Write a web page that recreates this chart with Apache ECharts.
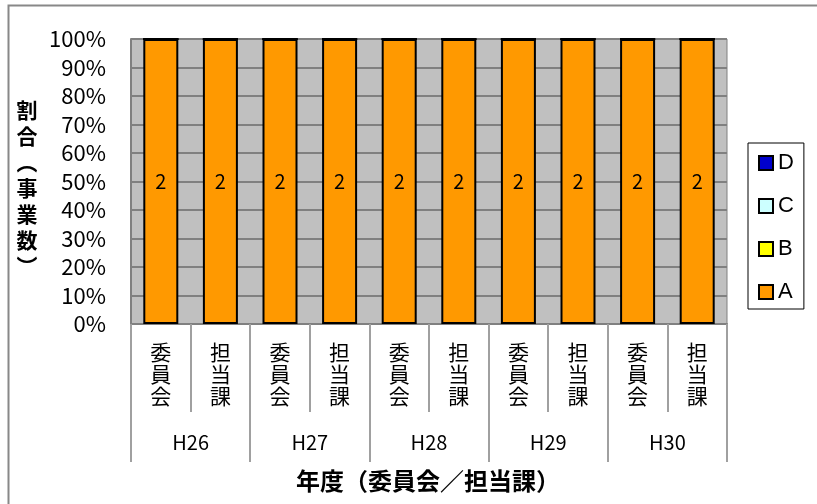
<!DOCTYPE html>
<html>
<head>
<meta charset="utf-8">
<script src="https://cdn.jsdelivr.net/npm/echarts@6/dist/echarts.min.js"></script>
<style>
html,body{margin:0;padding:0;background:#fff;}
#chart{width:817px;height:504px;}
</style>
</head>
<body>
<div id="chart"></div>
<script>
// Data
const categories = ['委員会','担当課','委員会','担当課','委員会','担当課','委員会','担当課','委員会','担当課'];
const years = ['H26','H27','H28','H29','H30'];
const seriesA = [2,2,2,2,2,2,2,2,2,2];
const seriesB = [0,0,0,0,0,0,0,0,0,0];
const seriesC = [0,0,0,0,0,0,0,0,0,0];
const seriesD = [0,0,0,0,0,0,0,0,0,0];
const yTicks = ['0%','10%','20%','30%','40%','50%','60%','70%','80%','90%','100%'];

const FONT = '"Noto Sans CJK JP", "Noto Sans", sans-serif';
const totals = categories.map((_, i) => seriesA[i] + seriesB[i] + seriesC[i] + seriesD[i]);
const pct = arr => arr.map((v, i) => ({ value: totals[i] ? v / totals[i] * 100 : 0, raw: v }));

const chart = echarts.init(document.getElementById('chart'), null, { renderer: 'canvas' });

function mkSeries(name, arr, color, showLabel) {
  return {
    name: name,
    type: 'bar',
    stack: 'total',
    xAxisIndex: 0,
    barWidth: 35,
    data: pct(arr),
    itemStyle: { color: color, borderColor: '#000', borderWidth: 2 },
    label: {
      show: showLabel,
      position: 'inside',
      color: '#000',
      fontSize: 20,
      fontFamily: FONT,
      formatter: p => p.data.raw > 0 ? String(p.data.raw) : ''
    },
    emphasis: { disabled: true }
  };
}

chart.setOption({
  animation: false,
  backgroundColor: '#fff',
  textStyle: { fontFamily: FONT },
  grid: {
    left: 131, right: 90, top: 39, bottom: 180,
    show: true, backgroundColor: '#C0C0C0', borderColor: '#808080', borderWidth: 1
  },
  legend: {
    orient: 'vertical',
    left: 748, top: 143,
    padding: [9, 10, 6, 10],
    itemGap: 21,
    itemWidth: 14, itemHeight: 14,
    icon: 'rect',
    borderColor: '#000', borderWidth: 1,
    backgroundColor: '#fff',
    data: ['D','C','B','A'],
    textStyle: { fontSize: 22, color: '#000', fontFamily: '"Liberation Sans", Arial, sans-serif', lineHeight: 22, padding: [0,0,0,0] },
    selectedMode: false
  },
  xAxis: [
    {
      type: 'category',
      data: categories,
      position: 'bottom',
      axisLine: { show: true, lineStyle: { color: '#808080', width: 2 } },
      axisTick: { show: true, interval: 0, alignWithLabel: false, length: 88, lineStyle: { color: '#A0A0A0', width: 2 } },
      axisLabel: {
        interval: 0, margin: 17, color: '#000', fontSize: 21, lineHeight: 22,
        fontFamily: FONT,
        formatter: v => v.split('').join('\n')
      }
    },
    {
      type: 'category',
      data: years,
      position: 'bottom',
      gridIndex: 0,
      axisLine: { show: false },
      axisTick: { show: true, interval: 0, alignWithLabel: false, length: 138, lineStyle: { color: '#A0A0A0', width: 2 } },
      axisLabel: { interval: 0, margin: 108, color: '#000', fontSize: 20, fontFamily: FONT }
    }
  ],
  yAxis: {
    type: 'value',
    min: 0, max: 100, interval: 10,
    axisLine: { show: true, lineStyle: { color: '#808080', width: 2 } },
    axisTick: { show: false },
    splitLine: { show: true, lineStyle: { color: '#808080', width: 2 } },
    axisLabel: {
      margin: 25, color: '#000', fontSize: 22, fontFamily: FONT,
      formatter: v => yTicks[Math.round(v / 10)]
    }
  },
  graphic: [
    { type: 'rect', shape: { x: 8.5, y: 5.5, width: 900, height: 700 }, style: { fill: 'none', stroke: '#888', lineWidth: 2 }, silent: true, z: -10 },
    { type: 'text', x: 428, y: 481, style: { text: '年度（委員会／担当課）', font: 'bold 24px ' + FONT, fill: '#000', align: 'center', verticalAlign: 'middle' } },
    { type: 'text', x: 27, y: 188, style: { text: '割\n合\n︵\n事\n業\n数\n︶', font: 'bold 21px ' + FONT, fill: '#000', align: 'center', verticalAlign: 'middle', lineHeight: 26 } }
  ],
  series: [
    mkSeries('A', seriesA, '#FF9900', true),
    mkSeries('B', seriesB, '#FFFF00', false),
    mkSeries('C', seriesC, '#CCFFFF', false),
    mkSeries('D', seriesD, '#0000CC', false)
  ]
});
</script>
</body>
</html>
